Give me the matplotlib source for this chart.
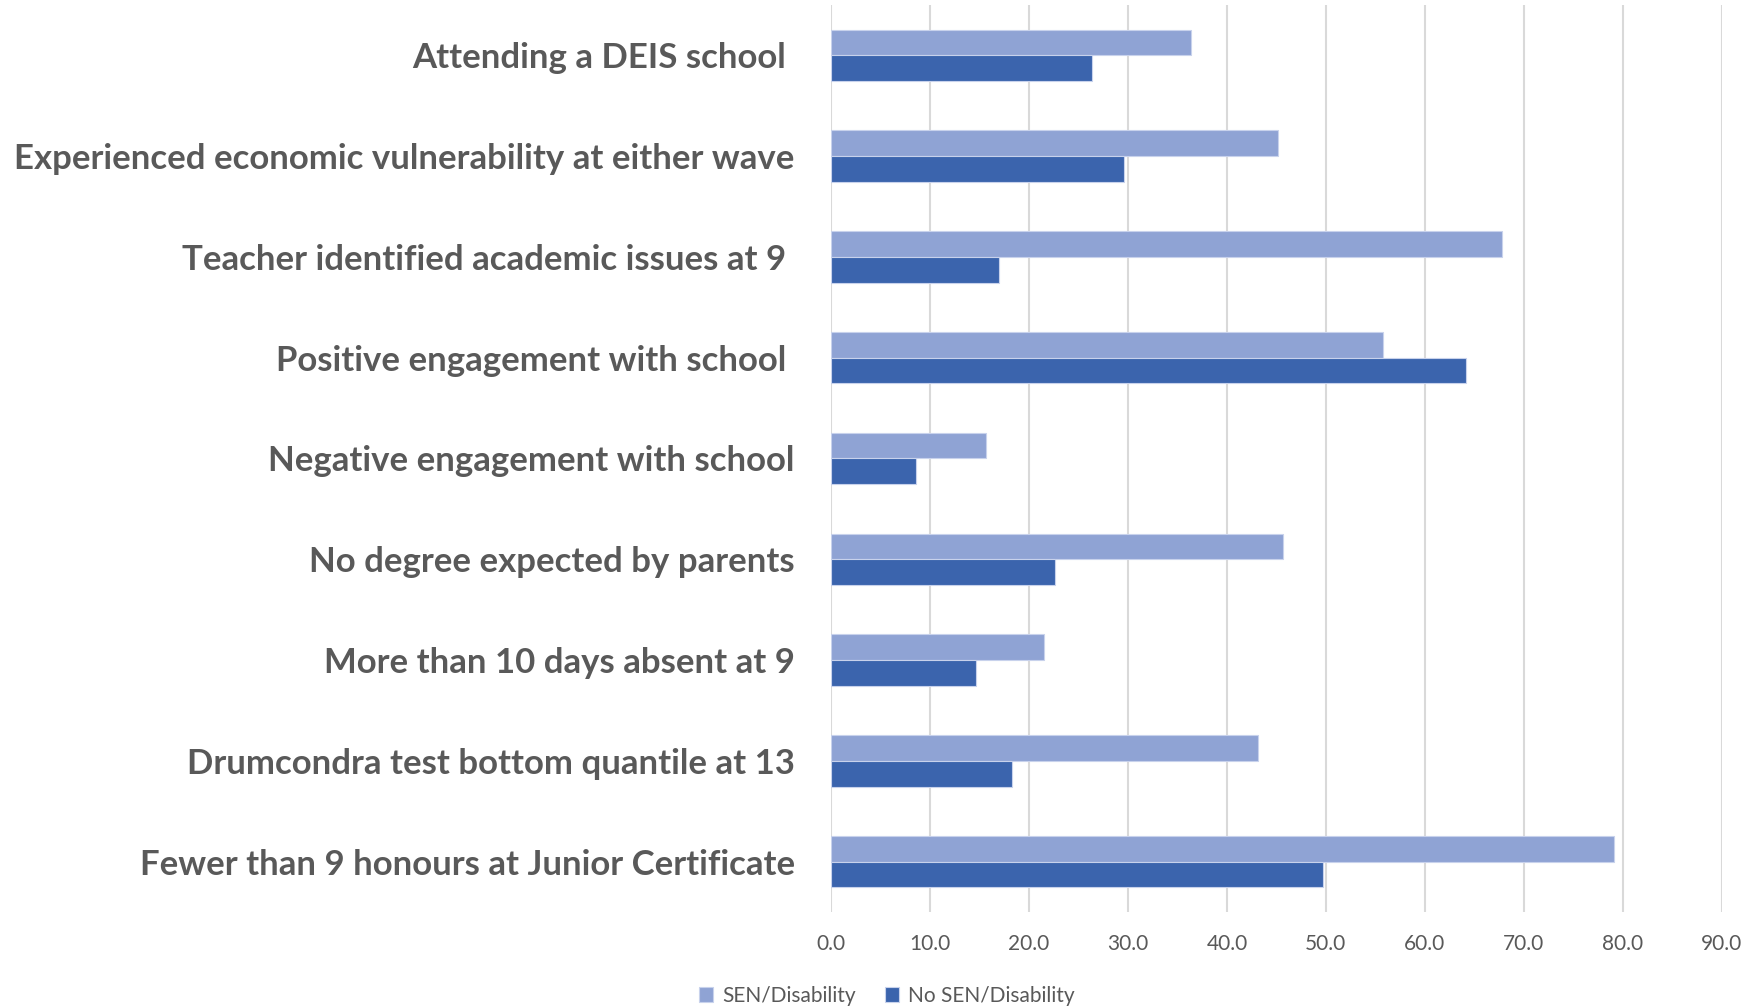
import matplotlib
matplotlib.use('Agg')
import matplotlib.pyplot as plt
import numpy as np

plt.rcParams['font.family'] = ['Lato', 'DejaVu Sans']

# Categories, top to bottom
categories = [
    'Attending a DEIS school ',
    'Experienced economic vulnerability at either wave',
    'Teacher identified academic issues at 9 ',
    'Positive engagement with school ',
    'Negative engagement with school',
    'No degree expected by parents',
    'More than 10 days absent at 9',
    'Drumcondra test bottom quantile at 13',
    'Fewer than 9 honours at Junior Certificate',
]
sen = [36.4, 45.2, 67.8, 55.8, 15.7, 45.7, 21.5, 43.1, 79.1]
no_sen = [26.4, 29.6, 17.0, 64.2, 8.6, 22.6, 14.7, 18.3, 49.7]
xticks = np.arange(0, 91, 10)

light = '#8fa3d4'
dark = '#3b64ad'
text_grey = '#595959'

fig = plt.figure(figsize=(17.59, 10.08), dpi=100)
ax = fig.add_axes([0.4724, 0.0952, 0.5065, 0.900])

y = np.arange(len(categories))
h = 0.255
ax.barh(y - h / 2, sen, height=h, color=light, edgecolor='#c8d2ec', linewidth=0.8,
        label='SEN/Disability', zorder=3)
ax.barh(y + h / 2, no_sen, height=h, color=dark, edgecolor='#c8d2ec', linewidth=0.8,
        label='No SEN/Disability', zorder=3)

ax.set_ylim(len(categories) - 0.5, -0.5)
ax.set_xlim(0, 90)
ax.set_xticks(xticks)
ax.set_xticklabels([f'{v:.1f}' for v in xticks])
ax.set_yticks(y)
ax.set_yticklabels(categories, fontsize=25, fontweight='bold', color=text_grey)

ax.tick_params(axis='x', length=0, pad=16, labelsize=15, labelcolor=text_grey)
ax.tick_params(axis='y', length=0, pad=26)
ax.grid(axis='x', color='#d9d9d9', linewidth=1.5, zorder=0)
for s in ax.spines.values():
    s.set_visible(False)

fig.legend(loc='center', bbox_to_anchor=(0.504, 0.012), ncol=2, frameon=False,
           fontsize=15, labelcolor=text_grey, handlelength=0.7, handleheight=0.7,
           handletextpad=0.4, columnspacing=1.4, borderpad=0)

fig.savefig('out.png', dpi=100)
